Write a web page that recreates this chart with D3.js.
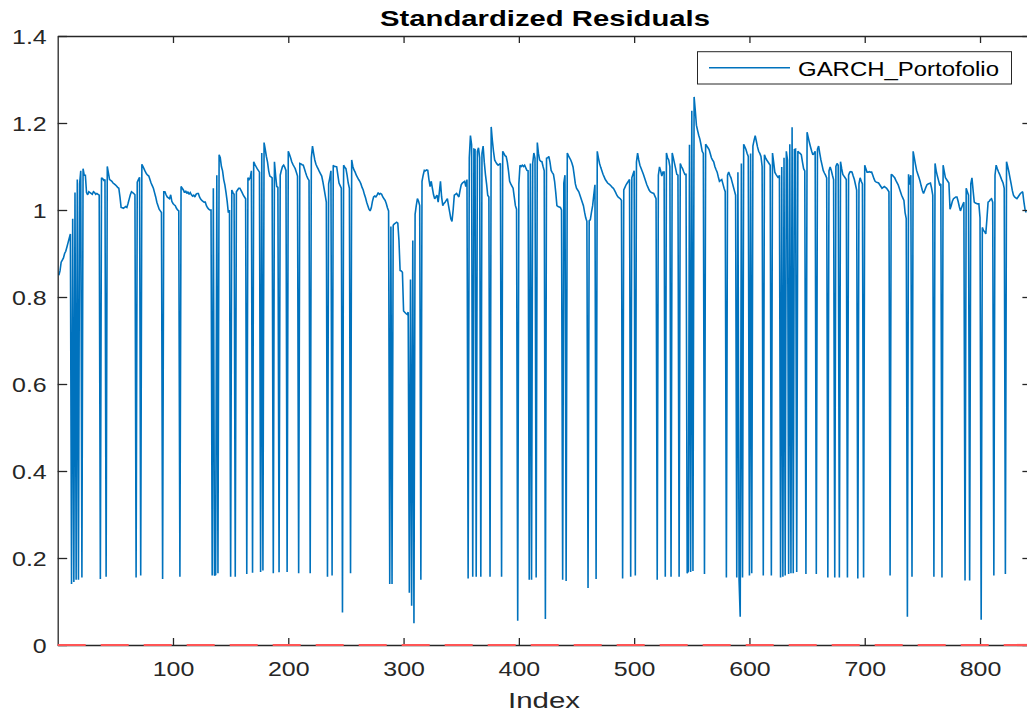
<!DOCTYPE html>
<html><head><meta charset="utf-8">
<script src="https://cdn.jsdelivr.net/npm/d3@7"></script>
<style>
body{margin:0;background:#fff;}
svg{display:block;}
text{font-family:"Liberation Sans",Arial,Helvetica,sans-serif;}
</style>
</head><body>
<svg id="chart" width="1027" height="713"></svg>
<script>
// ---------------- data ----------------
const chartTitle = "Standardized Residuals";
const xAxisLabel = "Index";
const seriesName = "GARCH_Portofolio";
const xTickValues = [100, 200, 300, 400, 500, 600, 700, 800];
const yTickValues = [0, 0.2, 0.4, 0.6, 0.8, 1, 1.2, 1.4];
const yTickLabels = ["0", "0.2", "0.4", "0.6", "0.8", "1", "1.2", "1.4"];
const xDomain = [0, 845];
const yDomain = [0, 1.4];
const zeroLine = [0];
// standardized residual values, Index 1..840
const residuals = [
0.85,0.86,0.88,0.885,0.89,0.90,0.905,0.915,0.925,0.935,
0.945,0.14,0.98,0.145,1.04,0.15,1.07,0.15,1.06,1.09,
0.155,1.095,1.08,1.08,1.04,1.035,1.042,1.04,1.038,1.036,
1.042,1.04,1.036,1.038,1.036,1.034,0.152,1.074,1.072,1.068,
1.07,0.157,1.10,1.085,1.07,1.068,1.066,1.062,1.06,1.058,
1.055,1.052,1.05,1.03,1.006,1.005,1.004,1.006,1.008,1.006,
1.015,1.025,1.035,1.042,1.04,1.038,1.035,0.155,1.064,1.07,
1.075,0.16,1.105,1.10,1.094,1.088,1.083,1.08,1.078,1.07,
1.062,1.056,1.05,1.04,1.03,1.018,1.01,1.002,0.998,0.994,
0.152,1.042,1.042,1.035,1.03,1.028,1.026,1.035,1.02,1.015,
1.012,1.01,1.004,1.0,0.998,0.157,1.054,1.05,1.046,1.04,
1.044,1.038,1.042,1.036,1.04,1.035,1.032,1.034,1.03,1.036,
1.038,1.038,1.03,1.025,1.022,1.02,1.018,1.018,1.01,1.005,
1.002,1.0,1.0,0.16,1.05,0.16,0.162,1.08,0.165,1.127,
1.12,1.10,1.09,1.07,1.058,1.04,1.02,0.994,1.0,0.157,
1.046,1.04,1.036,0.157,1.042,1.046,1.05,1.05,1.045,1.04,
1.034,1.03,1.026,0.163,1.074,1.07,1.074,1.09,0.166,1.111,
1.105,1.10,1.095,1.091,1.087,0.168,1.131,0.171,1.155,1.14,
1.123,1.11,1.09,1.078,1.076,1.074,0.165,1.111,1.08,1.054,
1.052,0.167,1.08,1.091,1.10,1.103,1.098,1.091,0.168,1.135,
1.128,1.12,1.111,1.105,1.10,1.095,1.087,1.078,0.165,1.107,
1.106,1.104,1.103,1.095,1.086,1.078,1.072,1.068,0.165,1.12,
1.147,1.13,1.115,1.105,1.099,1.094,1.088,1.083,1.078,1.065,
1.05,1.034,1.018,0.157,1.06,1.074,1.09,0.16,1.103,1.10,
1.10,1.099,1.08,1.062,1.056,1.05,0.075,1.103,1.098,1.095,
1.08,1.062,1.05,0.165,1.115,1.10,1.092,1.087,1.08,1.075,
1.07,1.066,1.06,1.052,1.046,1.036,1.028,1.018,1.01,1.002,
0.998,1.005,1.02,1.03,1.032,1.03,1.034,1.04,1.036,1.038,
1.036,1.03,1.026,1.022,1.015,1.005,0.998,0.14,0.962,0.14,
0.965,0.968,0.97,0.972,0.97,0.93,0.861,0.86,0.857,0.768,
0.765,0.762,0.76,0.765,0.12,0.84,0.09,0.93,0.05,0.99,
1.01,1.026,1.02,1.01,0.15,1.066,1.08,1.091,1.09,1.092,
1.091,1.07,1.054,1.066,1.05,1.035,1.026,1.03,1.034,1.018,
1.04,1.066,1.03,1.01,1.015,1.018,1.022,1.026,1.01,0.995,
0.98,0.974,1.0,1.034,1.036,1.038,1.034,1.03,1.045,1.058,
1.062,1.064,1.066,1.054,1.07,0.153,1.12,1.171,1.15,0.157,
1.14,1.139,0.157,1.135,1.143,1.12,0.157,1.13,1.147,1.11,
1.082,1.06,1.034,1.03,0.157,1.191,1.16,1.135,1.115,1.11,
1.106,1.103,1.105,1.107,0.157,1.135,1.13,1.125,1.123,1.11,
1.09,1.066,1.06,1.055,1.05,1.03,1.01,1.002,0.056,1.06,
1.103,1.10,1.103,1.10,1.103,1.097,1.091,1.09,0.15,1.107,
0.15,1.107,1.131,1.119,0.155,1.155,1.13,1.115,1.112,1.111,
1.10,1.09,0.06,1.119,1.12,1.123,1.11,1.091,1.086,1.082,
1.066,1.04,1.01,1.008,1.007,1.006,1.0,0.15,1.062,1.08,
0.147,1.131,1.125,1.12,1.115,1.108,1.099,1.08,1.06,1.05,
1.046,1.042,1.034,1.026,1.018,1.01,0.995,0.982,0.974,0.131,
0.975,0.978,0.995,1.01,1.035,1.058,0.152,1.135,1.12,1.107,
1.098,1.09,1.082,1.076,1.07,1.066,1.062,1.06,1.058,1.055,
1.052,1.05,1.045,1.04,1.034,1.03,1.028,1.026,1.022,0.153,
1.046,1.052,1.058,1.062,1.066,1.07,0.157,1.074,1.082,1.09,
0.16,1.11,1.131,1.115,1.103,1.096,1.089,1.082,1.074,1.066,
1.058,1.052,1.046,1.042,1.04,1.039,1.038,1.032,1.026,0.15,
1.08,1.099,1.09,1.078,1.087,1.087,0.157,1.131,1.12,1.115,
1.10,0.157,1.131,1.12,1.107,1.095,1.082,1.08,0.157,1.107,
1.10,1.095,1.088,1.082,1.082,0.165,0.17,1.15,0.168,1.228,
0.17,1.26,1.23,1.195,1.183,1.172,1.163,1.15,1.135,1.13,
0.163,1.151,1.147,1.143,1.139,1.13,1.12,1.115,1.111,1.10,
1.093,1.087,1.076,1.066,1.068,1.07,1.06,1.05,1.042,0.155,
1.08,1.087,1.08,1.074,1.064,1.054,1.044,1.034,0.155,1.087,
0.15,0.065,1.107,0.155,1.151,1.145,1.139,1.13,1.123,0.16,
1.13,0.165,1.147,1.16,1.171,1.158,1.145,1.135,1.13,1.123,
1.10,0.16,1.127,1.12,1.115,1.111,1.107,1.103,0.16,1.131,
1.11,1.087,1.082,1.078,1.074,1.08,0.155,1.099,0.157,1.12,
0.16,1.135,1.115,0.163,1.151,0.165,1.19,0.165,1.139,1.14,
0.168,1.135,1.132,1.13,1.127,1.11,1.095,1.09,0.163,1.179,
1.167,1.155,1.145,1.135,1.127,1.13,1.135,0.163,1.14,1.147,
1.13,1.115,1.103,1.091,1.085,1.08,1.074,0.155,1.09,1.099,
1.091,1.08,1.07,0.155,1.10,1.107,1.103,0.155,1.111,1.095,
1.082,1.078,1.074,1.07,0.155,1.08,1.087,1.088,1.087,1.078,
1.07,1.058,1.046,0.153,1.06,1.074,1.066,1.06,0.155,1.103,
1.095,1.087,1.087,1.088,1.087,1.087,1.08,1.072,1.066,1.064,
1.063,1.062,1.058,1.054,1.05,1.052,1.054,1.052,1.05,1.046,
1.042,0.16,1.082,1.08,1.077,1.074,1.068,1.063,1.058,1.05,
1.042,1.034,1.028,1.022,0.994,0.98,0.065,1.082,1.058,1.08,
0.157,1.135,1.12,1.105,1.091,1.083,1.075,1.066,1.055,1.045,
1.038,1.045,1.052,1.058,1.06,1.061,1.062,1.05,1.034,0.157,
1.107,1.09,1.078,1.068,1.058,1.06,0.155,1.103,1.088,1.074,
1.07,1.066,1.062,1.002,1.01,1.02,1.026,1.028,1.03,1.03,
1.02,1.008,0.998,1.005,1.012,1.018,0.148,1.05,1.042,1.034,
0.148,1.06,1.074,1.045,1.018,1.016,1.015,1.014,1.014,0.982,
0.058,0.96,0.953,0.95,0.945,0.98,1.018,1.02,1.024,1.026,
1.018,0.16,1.08,1.103,1.095,1.088,1.082,1.075,1.068,1.062,
1.05,0.163,1.111,1.1,1.088,1.074,1.06,1.045,1.034,1.03,
1.028,1.026,1.03,1.034,1.038,1.04,1.042,1.02,1.002,0.994
];

// ---------------- drawing ----------------
const W = 1027, H = 713;
const plot = {left: 57.7, right: 1031.9, top: 36, bottom: 645};
const axisColor = "#262626";
const lineColor = "#0072BD";
const sx = 1.28; // horizontal text stretch seen in the reference

const svg = d3.select("#chart");
svg.append("rect").attr("width", W).attr("height", H).attr("fill", "#fff");

const x = d3.scaleLinear().domain(xDomain).range([plot.left, plot.right]);
const y = d3.scaleLinear().domain(yDomain).range([plot.bottom, plot.top]);

svg.append("defs").append("clipPath").attr("id", "clip")
  .append("rect").attr("x", plot.left).attr("y", plot.top)
  .attr("width", plot.right - plot.left).attr("height", plot.bottom - plot.top);

// series line
const line = d3.line().x((d, i) => x(i + 1)).y(d => y(d));
svg.append("g").attr("clip-path", "url(#clip)")
  .append("path").datum(residuals)
  .attr("d", line).attr("fill", "none")
  .attr("stroke", lineColor).attr("stroke-width", 1.6)
  .attr("stroke-linejoin", "miter").attr("stroke-miterlimit", 2);

// axes
function styleAxis(g) {
  g.select(".domain").attr("stroke", axisColor).attr("stroke-width", 1.3);
  g.selectAll(".tick line").attr("stroke", axisColor).attr("stroke-width", 1.3);
  g.selectAll(".tick text").attr("fill", axisColor)
    .style("font-family", '"Liberation Sans",Arial,sans-serif');
}

const xAxisB = svg.append("g").attr("transform", `translate(0,${plot.bottom})`)
  .call(d3.axisBottom(x).tickValues(xTickValues).tickFormat(d3.format("d"))
        .tickSizeInner(-7).tickSizeOuter(0).tickPadding(0));
styleAxis(xAxisB);
xAxisB.selectAll(".tick text").attr("font-size", 19.5).attr("y", 31.5).attr("dy", null)
  .attr("transform", `scale(${sx},1)`);

const xAxisT = svg.append("g").attr("transform", `translate(0,${plot.top})`)
  .call(d3.axisTop(x).tickValues(xTickValues).tickFormat("")
        .tickSizeInner(-7).tickSizeOuter(0));
styleAxis(xAxisT);

const yAxisL = svg.append("g").attr("transform", `translate(${plot.left},0)`)
  .call(d3.axisLeft(y).tickValues(yTickValues).tickFormat((d, i) => yTickLabels[i])
        .tickSizeInner(-9.5).tickSizeOuter(0).tickPadding(0));
styleAxis(yAxisL);
yAxisL.selectAll(".tick text").attr("font-size", 19.5)
  .attr("x", -11 / sx).attr("dy", "0.36em")
  .attr("transform", `scale(${sx},1)`);

const yAxisR = svg.append("g").attr("transform", `translate(${plot.right},0)`)
  .call(d3.axisRight(y).tickValues(yTickValues).tickFormat("")
        .tickSizeInner(-9.5).tickSizeOuter(0));
styleAxis(yAxisR);

// red dashed zero line
svg.append("g").selectAll("line").data(zeroLine).join("line")
  .attr("x1", plot.left).attr("x2", plot.right)
  .attr("y1", d => y(d)).attr("y2", d => y(d))
  .attr("stroke", "#ff5555").attr("stroke-width", 2.2)
  .attr("stroke-dasharray", "28,15");

// title
svg.append("text").attr("x", 545).attr("y", 26)
  .attr("text-anchor", "middle").attr("font-weight", "bold").attr("font-size", 21.5)
  .attr("fill", "#000").attr("textLength", 330).attr("lengthAdjust", "spacingAndGlyphs")
  .text(chartTitle);

// x label
svg.append("text").attr("x", 544).attr("y", 707.5)
  .attr("text-anchor", "middle").attr("font-size", 21.5).attr("fill", axisColor)
  .attr("textLength", 72).attr("lengthAdjust", "spacingAndGlyphs")
  .text(xAxisLabel);

// legend
const legend = svg.append("g");
legend.append("rect").attr("x", 697.5).attr("y", 51.7).attr("width", 314).attr("height", 32.3)
  .attr("fill", "#fff").attr("stroke", axisColor).attr("stroke-width", 1);
legend.append("line").attr("x1", 709).attr("x2", 790).attr("y1", 67.7).attr("y2", 67.7)
  .attr("stroke", lineColor).attr("stroke-width", 1.4);
legend.append("text").attr("x", 798).attr("y", 75.5).attr("font-size", 19.5)
  .attr("fill", "#000").attr("textLength", 201).attr("lengthAdjust", "spacingAndGlyphs")
  .text(seriesName);
</script>
</body></html>
